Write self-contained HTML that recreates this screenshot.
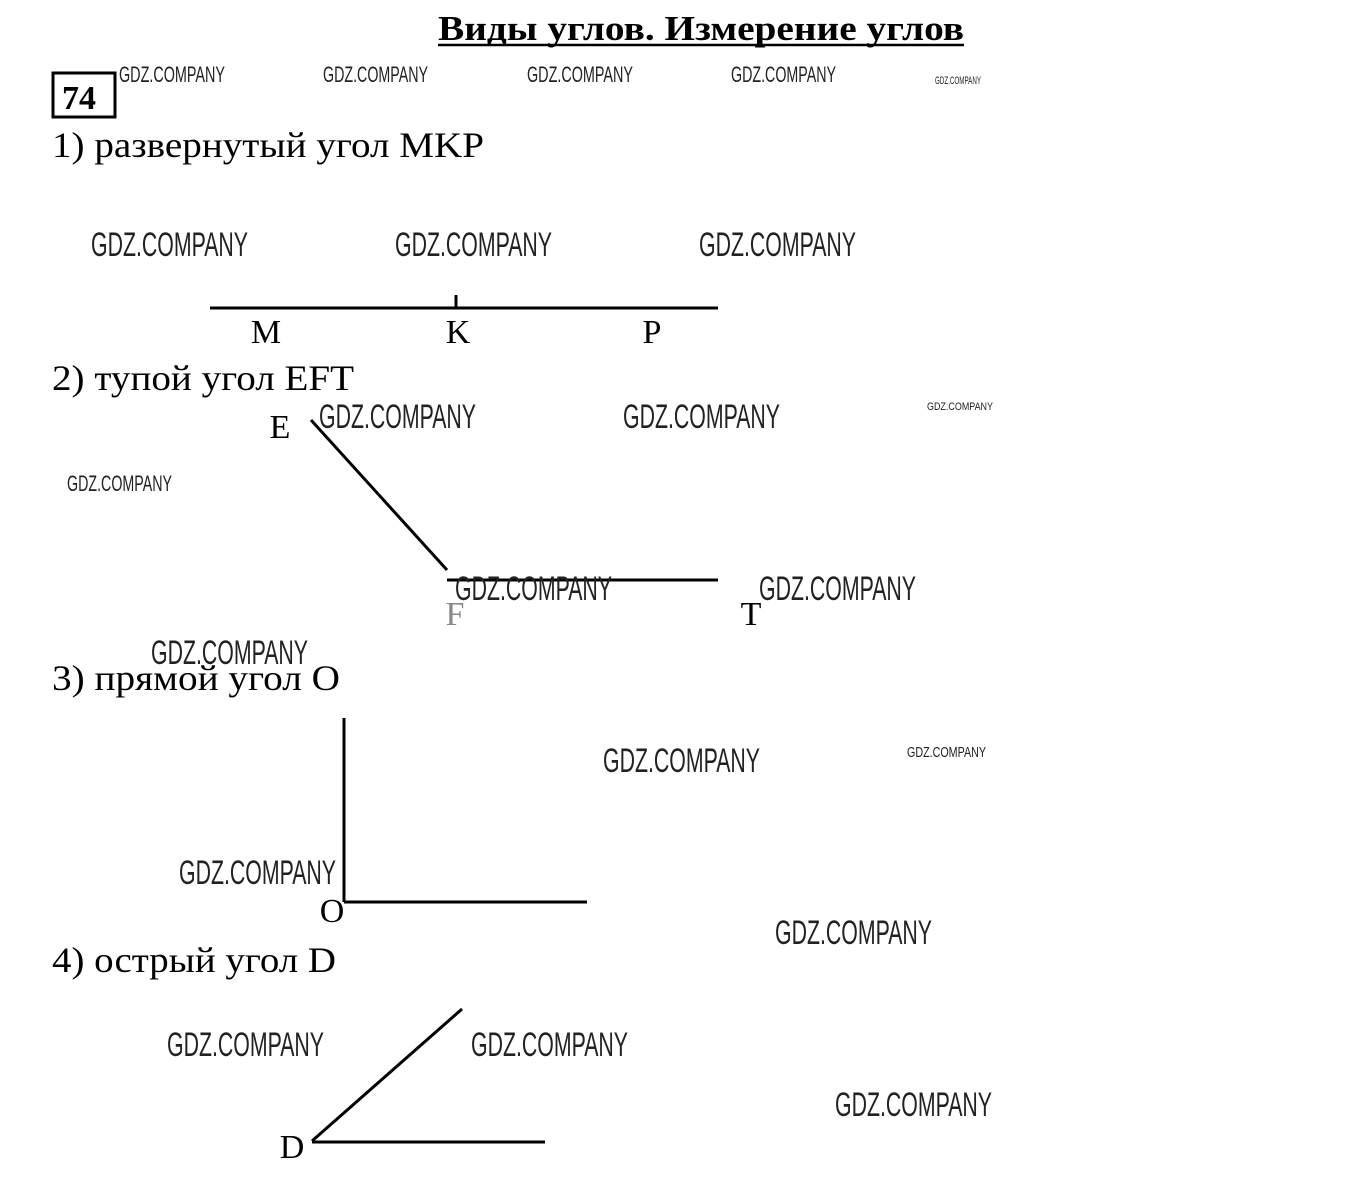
<!DOCTYPE html>
<html><head><meta charset="utf-8"><style>body{margin:0;background:#fff}svg{display:block}</style></head>
<body>
<svg width="1352" height="1203" viewBox="0 0 1352 1203" xmlns="http://www.w3.org/2000/svg">
<rect width="1352" height="1203" fill="#fff"/>
<g font-family="Liberation Serif, serif" fill="#000">
<text x="438" y="40" font-size="35" font-weight="bold" textLength="526" lengthAdjust="spacingAndGlyphs">Виды углов. Измерение углов</text>
<line x1="438" y1="45" x2="964" y2="45" stroke="#000" stroke-width="2.5"/>
<rect x="53" y="73" width="62" height="44" fill="none" stroke="#000" stroke-width="3"/>
<text x="62" y="109" font-size="34" font-weight="bold">74</text>
<text x="52" y="157" font-size="36" textLength="432" lengthAdjust="spacingAndGlyphs">1) развернутый угол MKP</text>
<text x="52" y="390" font-size="36" textLength="302" lengthAdjust="spacingAndGlyphs">2) тупой угол EFT</text>
<text x="52" y="690" font-size="36" textLength="288" lengthAdjust="spacingAndGlyphs">3) прямой угол O</text>
<text x="52" y="972" font-size="36" textLength="284" lengthAdjust="spacingAndGlyphs">4) острый угол D</text>
<g font-size="34" text-anchor="middle">
<text x="266" y="343">M</text><text x="458" y="343">K</text><text x="652" y="343">P</text>
<text x="280" y="438">E</text><text x="455" y="625" fill="#888">F</text><text x="751" y="625">T</text>
<text x="332" y="922">O</text><text x="292" y="1158">D</text>
</g>
</g>
<g stroke="#000" stroke-width="3" fill="none">
<line x1="210" y1="308" x2="718" y2="308"/>
<line x1="456" y1="295" x2="456" y2="308"/>
<line x1="311" y1="420" x2="447" y2="570"/>
<line x1="447" y1="580" x2="718" y2="580"/>
<line x1="344" y1="718" x2="344" y2="902"/>
<line x1="344" y1="902" x2="587" y2="902"/>
<line x1="312" y1="1141" x2="462" y2="1009"/>
<line x1="312" y1="1142" x2="545" y2="1142"/>
</g>
<g font-family="Liberation Sans, sans-serif" fill="#222" lengthAdjust="spacingAndGlyphs">
<g font-size="22">
<text x="119" y="82" textLength="106" lengthAdjust="spacingAndGlyphs">GDZ.COMPANY</text>
<text x="323" y="82" textLength="105" lengthAdjust="spacingAndGlyphs">GDZ.COMPANY</text>
<text x="527" y="82" textLength="106" lengthAdjust="spacingAndGlyphs">GDZ.COMPANY</text>
<text x="731" y="82" textLength="105" lengthAdjust="spacingAndGlyphs">GDZ.COMPANY</text>
<text x="67" y="491" textLength="105" lengthAdjust="spacingAndGlyphs">GDZ.COMPANY</text>
</g>
<g font-size="11">
<text x="935" y="84" textLength="46" lengthAdjust="spacingAndGlyphs">GDZ.COMPANY</text>
<text x="927" y="410" textLength="66" lengthAdjust="spacingAndGlyphs">GDZ.COMPANY</text>
</g>
<text x="907" y="757" font-size="15" textLength="79" lengthAdjust="spacingAndGlyphs">GDZ.COMPANY</text>
<g font-size="34">
<text x="91" y="256" textLength="157" lengthAdjust="spacingAndGlyphs">GDZ.COMPANY</text>
<text x="395" y="256" textLength="157" lengthAdjust="spacingAndGlyphs">GDZ.COMPANY</text>
<text x="699" y="256" textLength="157" lengthAdjust="spacingAndGlyphs">GDZ.COMPANY</text>
<text x="319" y="428" textLength="157" lengthAdjust="spacingAndGlyphs">GDZ.COMPANY</text>
<text x="623" y="428" textLength="157" lengthAdjust="spacingAndGlyphs">GDZ.COMPANY</text>
<text x="455" y="600" textLength="157" lengthAdjust="spacingAndGlyphs">GDZ.COMPANY</text>
<text x="759" y="600" textLength="157" lengthAdjust="spacingAndGlyphs">GDZ.COMPANY</text>
<text x="151" y="664" textLength="157" lengthAdjust="spacingAndGlyphs">GDZ.COMPANY</text>
<text x="603" y="772" textLength="157" lengthAdjust="spacingAndGlyphs">GDZ.COMPANY</text>
<text x="179" y="884" textLength="157" lengthAdjust="spacingAndGlyphs">GDZ.COMPANY</text>
<text x="775" y="944" textLength="157" lengthAdjust="spacingAndGlyphs">GDZ.COMPANY</text>
<text x="167" y="1056" textLength="157" lengthAdjust="spacingAndGlyphs">GDZ.COMPANY</text>
<text x="471" y="1056" textLength="157" lengthAdjust="spacingAndGlyphs">GDZ.COMPANY</text>
<text x="835" y="1116" textLength="157" lengthAdjust="spacingAndGlyphs">GDZ.COMPANY</text>
</g>
</g>
</svg>
</body></html>
